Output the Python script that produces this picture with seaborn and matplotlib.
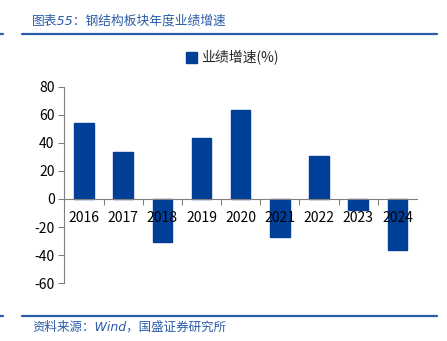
import matplotlib
matplotlib.use("Agg")
import matplotlib.pyplot as plt
import seaborn as sns
import pandas as pd
from matplotlib.ticker import MultipleLocator, FixedLocator
from matplotlib.lines import Line2D
from matplotlib.patches import Patch

years = ["2016", "2017", "2018", "2019", "2020", "2021", "2022", "2023", "2024"]
growth = [54.3, 33.6, -30.7, 43.3, 63.3, -27.0, 31.0, -7.9, -36.7]
series_name = "业绩增速(%)"
title_text = "图表55：钢结构板块年度业绩增速"
source_text = "资料来源：Wind，国盛证券研究所"

sns.set_theme(style="white")
plt.rcParams['font.family'] = ['Noto Sans CJK SC', 'DejaVu Sans']
plt.rcParams['axes.unicode_minus'] = False

BLUE = "#003F98"
HEAD = "#2A5CAA"
LATIN_FIRST = ['DejaVu Sans', 'Noto Sans CJK SC']

df = pd.DataFrame({"year": years, "value": growth})

fig = plt.figure(figsize=(4.47, 3.41), dpi=100)
ax = fig.add_axes([0.1439, 0.170, 0.933 - 0.1439, 0.745 - 0.170])

sns.barplot(data=df, x="year", y="value", color=BLUE, width=0.5, ax=ax,
            saturation=1, edgecolor=BLUE)

ax.set_ylim(-60, 80)
ax.set_xlim(-0.5, len(years) - 0.5)
ax.yaxis.set_major_locator(MultipleLocator(20))
ax.set_xlabel("")
ax.set_ylabel("")
ax.set_axisbelow(False)

for s in ["top", "right"]:
    ax.spines[s].set_visible(False)
ax.spines["bottom"].set_position(("data", 0))
ax.spines["bottom"].set_color("#808080")
ax.spines["left"].set_color("#808080")
ax.spines["bottom"].set_linewidth(0.8)
ax.spines["left"].set_linewidth(0.8)

ax.tick_params(axis="y", left=True, direction="out", length=4, width=0.8, color="#808080",
               labelsize=10, pad=3, labelcolor="black")
ax.tick_params(axis="x", which="major", bottom=True, length=0, labelsize=10, pad=9,
               labelcolor="black")
ax.xaxis.set_minor_locator(FixedLocator([i + 0.5 for i in range(len(years) - 1)]))
ax.tick_params(axis="x", which="minor", bottom=True, direction="out", length=4, width=0.8,
               color="#808080")

# Legend
handle = Patch(facecolor=BLUE, edgecolor=BLUE)
fig.legend([handle], [series_name], loc="center", bbox_to_anchor=(232 / 447, 1 - 58 / 341),
           frameon=False, fontsize=10, handlelength=0.8, handleheight=0.8, handletextpad=0.3)

# Header and footer
fig.add_artist(Line2D([21.7 / 447, 437 / 447], [1 - 34 / 341] * 2, color=HEAD, lw=1.6))
fig.add_artist(Line2D([0, 3 / 447], [1 - 34 / 341] * 2, color=HEAD, lw=1.6))
fig.add_artist(Line2D([21.7 / 447, 437 / 447], [1 - 316 / 341] * 2, color=HEAD, lw=1.6))
fig.add_artist(Line2D([0, 3 / 447], [1 - 316 / 341] * 2, color=HEAD, lw=1.6))

fig.text(32 / 447, 1 - 21 / 341, title_text, fontsize=9.2, color=HEAD, style="italic",
         ha="left", va="center", family=LATIN_FIRST)
fig.text(32 / 447, 1 - 327 / 341, source_text, fontsize=9, color=HEAD, style="italic",
         ha="left", va="center", family=LATIN_FIRST)

fig.savefig("out.png", dpi=100)
